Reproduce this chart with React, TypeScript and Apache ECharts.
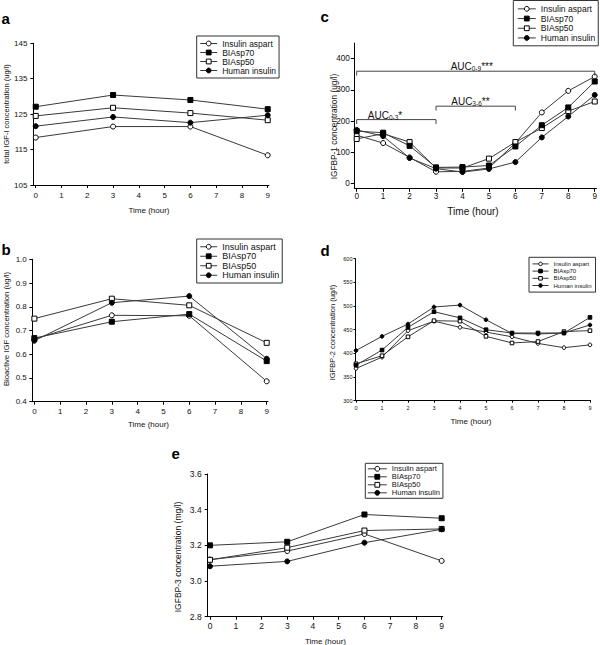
import React, { useEffect, useRef } from "react";
import * as echarts from "echarts";

const FONT = "'Liberation Sans', Arial, Helvetica, sans-serif";

const seriesNames = ["Insulin aspart", "BIAsp70", "BIAsp50", "Human insulin"];
const sparseHours = [0, 3, 6, 9];
const hourlyHours = [0, 1, 2, 3, 4, 5, 6, 7, 8, 9];
const hourTicks = [0, 1, 2, 3, 4, 5, 6, 7, 8, 9];

// a: total IGF-I (ug/l)
const igf1Aspart = [118.4, 121.5, 121.5, 113.4];
const igf1BIAsp70 = [127.1, 130.4, 129.0, 126.4];
const igf1BIAsp50 = [124.5, 126.8, 125.3, 123.3];
const igf1Human = [121.6, 124.2, 122.6, 124.7];

// b: bioactive IGF (ug/l)
const bioAspart = [0.664, 0.764, 0.762, 0.486];
const bioBIAsp70 = [0.668, 0.737, 0.769, 0.571];
const bioBIAsp50 = [0.75, 0.834, 0.806, 0.648];
const bioHuman = [0.657, 0.817, 0.845, 0.581];

// c: IGFBP-1 (ug/l)
const bp1Aspart = [155, 130, 84, 38, 39, 50, 130, 228, 297, 343];
const bp1BIAsp70 = [168, 163, 121, 52, 53, 58, 119, 187, 244, 327];
const bp1BIAsp50 = [143, 160, 133, 50, 50, 80, 133, 178, 232, 263];
const bp1Human = [172, 152, 82, 48, 37, 47, 69, 148, 215, 284];
const bp1Ticks = [0, 100, 200, 300, 400];

// AUC comparison brackets on panel c
const aucRanges = ["0-9", "3-6", "0-3"];
const aucStars = ["***", "**", "*"];
const aucFrom = [0, 3, 0];
const aucTo = [9, 6, 3];
const aucLevel = [360, 248, 205];
const aucTextX = [4.35, 4.3, 1.07];
const aucTextY = [377, 265, 221];

// d: IGFBP-2 (ug/l)
const bp2Aspart = [368, 392, 448, 468, 455, 445, 435, 421, 412, 418];
const bp2BIAsp70 = [375, 407, 455, 488, 475, 450, 443, 443, 443, 476];
const bp2BIAsp50 = [378, 395, 435, 469, 468, 436, 422, 425, 446, 448];
const bp2Human = [406, 436, 462, 498, 502, 471, 442, 441, 443, 460];

// e: IGFBP-3 (mg/l)
const bp3Aspart = [3.12, 3.168, 3.264, 3.113];
const bp3BIAsp70 = [3.2, 3.22, 3.373, 3.352];
const bp3BIAsp50 = [3.119, 3.187, 3.283, 3.292];
const bp3Human = [3.083, 3.11, 3.215, 3.29];

const markerShapes = ["circle", "rect", "rect", "circle"];
const markerFills = ["#ffffff", "#000000", "#ffffff", "#000000"];

type Panel = {
  hours: number[];
  values: number[][];
  grid: { left: number; top: number; width: number; height: number };
  xMin: number;
  xMax: number;
  yMin: number;
  yMax: number;
  yInterval?: number;
  yCustom?: number[];
  yDecimals: number;
  labelSize: number;
  xMargin: number;
  yMargin: number;
  tickLen: number;
  symbolSize: number;
  legend: any;
};

const panels: Panel[] = [
  {
    hours: sparseHours,
    values: [igf1Aspart, igf1BIAsp70, igf1BIAsp50, igf1Human],
    grid: { left: 33.4, top: 43.3, width: 235.6, height: 141.7 },
    xMin: -0.09, xMax: 9.05, yMin: 105, yMax: 145, yInterval: 10, yDecimals: 0,
    labelSize: 8, xMargin: 6, yMargin: 6, tickLen: 3, symbolSize: 5,
    legend: { left: 196.7, top: 36, itemWidth: 17, itemHeight: 6, fontSize: 8.5, lineHeight: 9, padding: [3, 3, 3, 3] },
  },
  {
    hours: sparseHours,
    values: [bioAspart, bioBIAsp70, bioBIAsp50, bioHuman],
    grid: { left: 32.3, top: 259.3, width: 235.7, height: 142.4 },
    xMin: -0.08, xMax: 9.05, yMin: 0.4, yMax: 1.0, yInterval: 0.1, yDecimals: 1,
    labelSize: 8, xMargin: 6, yMargin: 5.5, tickLen: 3, symbolSize: 5,
    legend: { left: 196.7, top: 239, itemWidth: 17, itemHeight: 6, fontSize: 9, lineHeight: 9.5, padding: [3, 3, 3, 3] },
  },
  {
    hours: hourlyHours,
    values: [bp1Aspart, bp1BIAsp70, bp1BIAsp50, bp1Human],
    grid: { left: 354.3, top: 43.1, width: 242.3, height: 145.2 },
    xMin: -0.09, xMax: 9.07, yMin: -15, yMax: 450, yCustom: bp1Ticks, yDecimals: 0,
    labelSize: 8.2, xMargin: 4.5, yMargin: 4.5, tickLen: 3.5, symbolSize: 5,
    legend: { left: 513.3, top: 0.5, itemWidth: 18, itemHeight: 6, fontSize: 8.6, lineHeight: 9.7, padding: [3.5, 3, 3, 4] },
  },
  {
    hours: hourlyHours,
    values: [bp2Aspart, bp2BIAsp70, bp2BIAsp50, bp2Human],
    grid: { left: 355.5, top: 258.7, width: 235, height: 142 },
    xMin: -0.02, xMax: 9.02, yMin: 300, yMax: 600, yInterval: 50, yDecimals: 0,
    labelSize: 5.5, xMargin: 4, yMargin: 3, tickLen: 2, symbolSize: 3.6,
    legend: { left: 529, top: 257.3, itemWidth: 16, itemHeight: 4.5, fontSize: 6, lineHeight: 7.2, padding: [3, 4, 3, 3] },
  },
  {
    hours: sparseHours,
    values: [bp3Aspart, bp3BIAsp70, bp3BIAsp50, bp3Human],
    grid: { left: 207.7, top: 474, width: 235, height: 142.7 },
    xMin: -0.09, xMax: 9.04, yMin: 2.8, yMax: 3.6, yInterval: 0.2, yDecimals: 1,
    labelSize: 8.5, xMargin: 4.5, yMargin: 6, tickLen: 3, symbolSize: 5,
    legend: { left: 365.3, top: 463.3, itemWidth: 19, itemHeight: 6, fontSize: 7.6, lineHeight: 7.9, padding: [1.5, 3, 1.5, 2] },
  },
];

const titleTexts = [
  { text: "total IGF-I concentration (ug/l)", x: 6.7, y: 114, rot: true, size: 7.5 },
  { text: "Time (hour)", x: 149, y: 210, rot: false, size: 8 },
  { text: "Bioactive IGF concentration (ug/l)", x: 6, y: 329, rot: true, size: 7.7 },
  { text: "Time (hour)", x: 148.5, y: 424, rot: false, size: 8 },
  { text: "IGFBP-1 concentration (ug/l)", x: 333.5, y: 126.5, rot: true, size: 8.3 },
  { text: "Time (hour)", x: 473, y: 211, rot: false, size: 10 },
  { text: "IGFBP-2 concentration (ug/l)", x: 332.7, y: 332.5, rot: true, size: 7.5 },
  { text: "Time (hour)", x: 471, y: 421, rot: false, size: 8 },
  { text: "IGFBP-3 concentration (mg/l)", x: 177.5, y: 557, rot: true, size: 8.5 },
  { text: "Time (hour)", x: 325.5, y: 641, rot: false, size: 8 },
];

const panelLetters = [
  { text: "a", x: 1.5, y: 18 },
  { text: "b", x: 1.5, y: 249.6 },
  { text: "c", x: 320.5, y: 16.3 },
  { text: "d", x: 320.5, y: 250.6 },
  { text: "e", x: 171.5, y: 453.9 },
];

function buildOption() {
  const grid: any[] = [];
  const xAxis: any[] = [];
  const yAxis: any[] = [];
  const series: any[] = [];
  const legend: any[] = [];

  panels.forEach((p, i) => {
    grid.push({ ...p.grid, containLabel: false });
    xAxis.push({
      type: "value",
      gridIndex: i,
      min: p.xMin,
      max: p.xMax,
      axisLine: { show: true, onZero: false, lineStyle: { color: "#000", width: 1 } },
      axisTick: { show: true, length: p.tickLen, customValues: hourTicks, lineStyle: { color: "#000", width: 1 } },
      axisLabel: {
        customValues: hourTicks,
        fontSize: p.labelSize,
        margin: p.xMargin,
        color: "#111",
        fontFamily: FONT,
      },
      splitLine: { show: false },
    });
    const yA: any = {
      type: "value",
      gridIndex: i,
      min: p.yMin,
      max: p.yMax,
      axisLine: { show: true, onZero: false, lineStyle: { color: "#000", width: 1 } },
      axisTick: { show: true, length: p.tickLen, lineStyle: { color: "#000", width: 1 } },
      axisLabel: {
        fontSize: p.labelSize,
        margin: p.yMargin,
        color: "#111",
        fontFamily: FONT,
        formatter: (v: number) => v.toFixed(p.yDecimals),
      },
      splitLine: { show: false },
    };
    if (p.yInterval !== undefined) yA.interval = p.yInterval;
    if (p.yCustom) {
      yA.axisTick.customValues = p.yCustom;
      yA.axisLabel.customValues = p.yCustom;
    }
    yAxis.push(yA);

    seriesNames.forEach((name, s) => {
      series.push({
        type: "line",
        name,
        xAxisIndex: i,
        yAxisIndex: i,
        data: p.hours.map((h, k) => [h, p.values[s][k]]),
        symbol: markerShapes[s],
        symbolSize: p.symbolSize,
        showAllSymbol: true,
        itemStyle: { color: markerFills[s], borderColor: "#000", borderWidth: 1 },
        lineStyle: { color: "#3a3a3a", width: 1 },
        emphasis: { disabled: true },
        silent: true,
        z: 2 + (s === 1 || s === 3 ? 1 : 0),
      });
    });

    const L = p.legend;
    legend.push({
      data: seriesNames,
      orient: "vertical",
      left: L.left,
      top: L.top,
      itemWidth: L.itemWidth,
      itemHeight: L.itemHeight,
      itemGap: 0,
      padding: L.padding,
      borderColor: "#333",
      borderWidth: 1,
      backgroundColor: "#fff",
      selectedMode: false,
      lineStyle: { width: 1, color: "#3a3a3a" },
      itemStyle: { borderWidth: 1, borderColor: "#000" },
      textStyle: { fontSize: L.fontSize, lineHeight: L.lineHeight, color: "#111", fontFamily: FONT },
    });
  });

  // AUC brackets on panel c
  series.push({
    type: "custom",
    name: "AUC",
    xAxisIndex: 2,
    yAxisIndex: 2,
    clip: false,
    silent: true,
    z: 5,
    encode: { x: [0, 1, 4], y: [2, 5] },
    data: aucRanges.map((_, k) => [aucFrom[k], aucTo[k], aucLevel[k], 14, aucTextX[k], aucTextY[k]]),
    renderItem: (params: any, api: any) => {
      const k = params.dataIndex;
      const x0 = api.value(0);
      const x1 = api.value(1);
      const lvl = api.value(2);
      const drop = api.value(3);
      const a = api.coord([x0, lvl - drop]);
      const b = api.coord([x0, lvl]);
      const c = api.coord([x1, lvl]);
      const d = api.coord([x1, lvl - drop]);
      const t = api.coord([api.value(4), api.value(5)]);
      return {
        type: "group",
        children: [
          {
            type: "polyline",
            shape: { points: [a, b, c, d] },
            style: { stroke: "#444", lineWidth: 1, fill: null },
          },
          {
            type: "text",
            x: t[0],
            y: t[1],
            style: {
              text: `{n|AUC}{s|${aucRanges[k]}}{n|${aucStars[k]}}`,
              align: "center",
              verticalAlign: "middle",
              fill: "#111",
              fontFamily: FONT,
              rich: {
                n: { fontSize: 10, fontFamily: FONT, fill: "#111", verticalAlign: "bottom", lineHeight: 12 },
                s: { fontSize: 6.5, fontFamily: FONT, fill: "#111", verticalAlign: "bottom", lineHeight: 10 },
              },
            },
          },
        ],
      };
    },
  });

  const graphic: any[] = [];
  titleTexts.forEach((t) => {
    graphic.push({
      type: "text",
      x: t.x,
      y: t.y,
      rotation: t.rot ? Math.PI / 2 : 0,
      silent: true,
      style: {
        text: t.text,
        fontSize: t.size,
        fontFamily: FONT,
        fill: "#111",
        align: "center",
        verticalAlign: "middle",
      },
    });
  });
  panelLetters.forEach((l) => {
    graphic.push({
      type: "text",
      x: l.x,
      y: l.y,
      silent: true,
      style: {
        text: l.text,
        fontSize: 15,
        fontWeight: "bold",
        fontFamily: FONT,
        fill: "#000",
        align: "left",
        verticalAlign: "middle",
      },
    });
  });

  return {
    animation: false,
    backgroundColor: "#fff",
    textStyle: { fontFamily: FONT },
    grid,
    xAxis,
    yAxis,
    series,
    legend,
    graphic,
  };
}

export default function App() {
  const ref = useRef<HTMLDivElement>(null);
  useEffect(() => {
    if (!ref.current) return;
    const chart = echarts.init(ref.current, undefined, { renderer: "svg" });
    chart.setOption(buildOption() as any);
    return () => chart.dispose();
  }, []);
  return (
    <div
      ref={ref}
      style={{ position: "absolute", left: 0, top: 0, width: 600, height: 645, background: "#fff" }}
    />
  );
}
